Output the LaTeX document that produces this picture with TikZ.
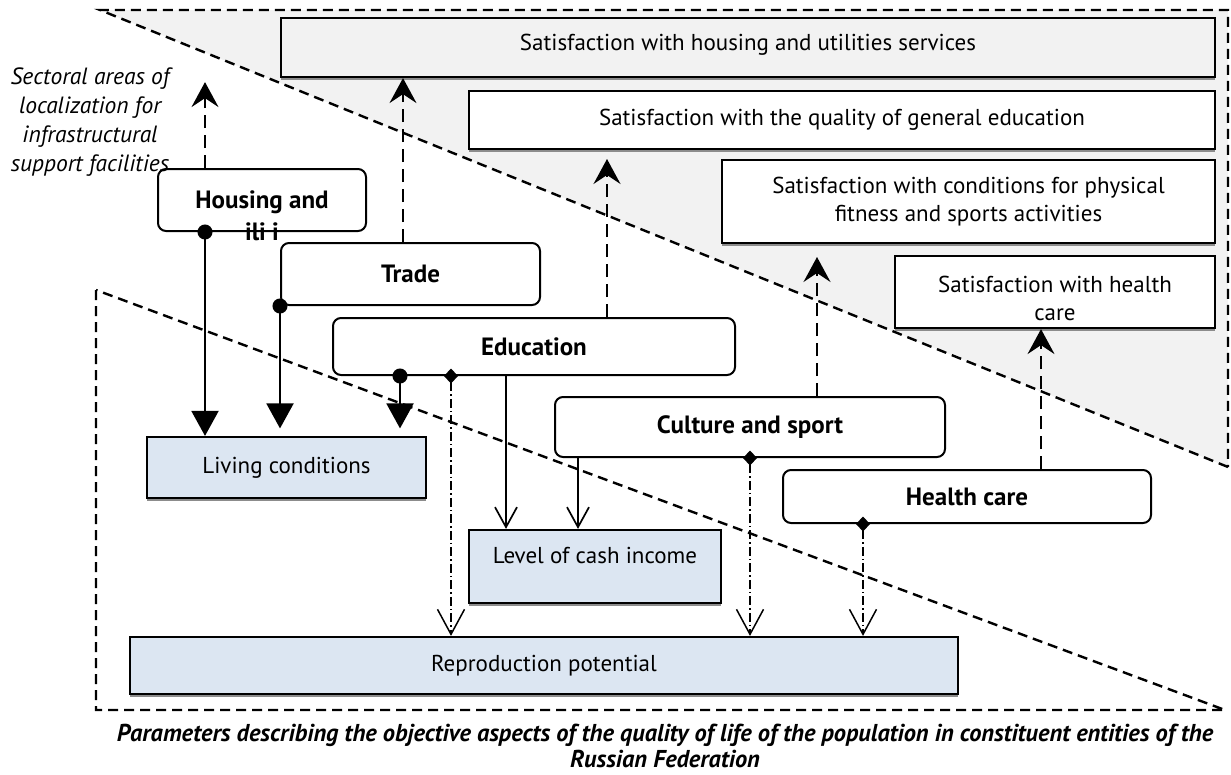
\documentclass[tikz,border=0pt]{standalone}
\usepackage{fontspec}
\setmainfont{PT Sans}
\usetikzlibrary{arrows.meta,shadows}
\definecolor{paleblue}{HTML}{DCE6F2}
\definecolor{palegrey}{HTML}{F2F2F2}
\begin{document}
\begin{tikzpicture}[x=1pt,y=-1pt,
  base/.style={font=\fontsize{23}{28}\selectfont},
  satbox/.style={base, draw, line width=2.2pt, fill=white, inner sep=0pt, align=center,
    drop shadow={shadow xshift=0pt, shadow yshift=-3pt, fill=black!45, opacity=1}},
  parbox/.style={satbox, fill=paleblue},
  secbox/.style={draw, line width=2pt, fill=white, rounded corners=8pt, inner sep=0pt,
    font=\fontsize{25}{28}\selectfont\bfseries, align=center},
  region/.style={line width=2.4pt, dash pattern=on 10pt off 6pt},
  dasharrow/.style={line width=2pt, dash pattern=on 13pt off 7pt,
    -{Stealth[length=25pt,width=27pt,inset=9pt]}},
  solidbig/.style={line width=2pt, {Circle[length=15pt]}-{Triangle[length=25pt,width=27pt]}},
  solidv/.style={line width=1.7pt, -{Straight Barb[length=20pt,width=22pt]}},
  dashdot/.style={line width=1.5pt, dash pattern=on 9pt off 3pt on 1.5pt off 3pt,
    {Turned Square[length=15pt,width=14pt]}-{Straight Barb[length=25pt,width=27pt]}},
]
\useasboundingbox (0,0) rectangle (1231,774);
% grey region (top right)
\fill[palegrey] (100,10) -- (1228,10) -- (1228,467) -- cycle;
\draw[region] (1228,467) -- (100,10) -- (1228,10) -- (1228,467);
% bottom-left region
\draw[region] (96,290) -- (96,710) -- (1225,710) -- cycle;

% satisfaction boxes
\node[satbox, fill=palegrey, minimum width=934pt, minimum height=59pt, text depth=10pt] (s1) at (748,47.5)
  {Satisfaction with housing and utilities services};
\node[satbox, minimum width=746pt, minimum height=58pt] (s2) at (842,120)
  {Satisfaction with the quality of general education};
\node[satbox, minimum width=493pt, minimum height=83pt] (s3) at (968.5,201.5)
  {Satisfaction with conditions for physical\\fitness and sports activities};
\node[satbox, minimum width=320pt, minimum height=72pt] (s4) at (1055,292) {};
\node[base, align=center, inner sep=0pt] (s4t) at (1055,298)
  {Satisfaction with health\\care};

% sector boxes
\node[secbox, minimum width=208pt, minimum height=62pt] (hous) at (262,200) {};
\node[font=\fontsize{25}{32}\selectfont\bfseries, align=center, inner sep=0pt] (houst) at (262,216) {Housing and\\ili i};
\node[secbox, minimum width=259pt, minimum height=62pt] (trade) at (410.5,274) {Trade};
\node[secbox, minimum width=402pt, minimum height=57pt] (edu) at (534,346.5) {Education};
\node[secbox, minimum width=390pt, minimum height=60pt] (cult) at (750,427) {Culture and sport};
\node[secbox, minimum width=368pt, minimum height=53pt] (health) at (967,496.5) {Health care};

% parameter boxes
\node[parbox, minimum width=279pt, minimum height=61pt] (liv) at (286.5,467.5) {Living conditions};
\node[parbox, minimum width=252pt, minimum height=73pt, text depth=22pt] (cash) at (595,566.5) {Level of cash income};
\node[parbox, minimum width=828pt, minimum height=57pt] (repr) at (544,665.5) {Reproduction potential};

% side label
\node[font=\fontsize{23.5}{29}\selectfont\itshape, align=center, inner sep=0pt] (sect) at (90,122)
  {Sectoral areas of\\localization for\\infrastructural\\support facilities};

% caption
\node[font=\fontsize{24.4}{26}\selectfont\bfseries\itshape, align=center, inner sep=0pt] (cap) at (665,746)
  {Parameters describing the objective aspects of the quality of life of the population in constituent entities of the\\Russian Federation};

% dashed arrows up
\draw[dasharrow] ([xshift=48pt]hous.north west) -- ([xshift=48pt,yshift=-4pt]hous.north west |- s1.south);
\draw[dasharrow] ([xshift=123pt]trade.north west) -- ([xshift=123pt]trade.north west |- s1.south);
\draw[dasharrow] ([xshift=275pt]edu.north west) -- ++(0,-158);
\draw[dasharrow] ([xshift=263pt]cult.north west) -- ++(0,-139);
\draw[dasharrow] ([xshift=259pt]health.north west) -- ([xshift=259pt]health.north west |- s4.south);

% solid big arrows
\draw[solidbig] ([xshift=-57pt,yshift=7.5pt]hous.south) -- ([xshift=-57pt]hous.south |- liv.north);
\draw[solidbig] ([yshift=7.5pt]trade.south west) -- ([yshift=7.5pt]trade.south west |- liv.north);
\draw[solidbig] ([xshift=68pt,yshift=7.5pt]edu.south west) -- ([xshift=68pt,yshift=7.5pt]edu.south west |- liv.north);

% solid V arrows
\draw[solidv] ([xshift=174pt]edu.south west) -- ([xshift=174pt]edu.south west |- cash.north);
\draw[solidv] ([xshift=24pt]cult.south west) -- ([xshift=24pt]cult.south west |- cash.north);

% dash-dot arrows
\draw[dashdot] ([xshift=119pt,yshift=7.5pt]edu.south west) -- ([xshift=119pt]edu.south west |- repr.north);
\draw[dashdot] ([xshift=196pt,yshift=7.5pt]cult.south west) -- ([xshift=196pt]cult.south west |- repr.north);
\draw[dashdot] ([xshift=81pt,yshift=7.5pt]health.south west) -- ([xshift=81pt]health.south west |- repr.north);
\end{tikzpicture}
\end{document}
